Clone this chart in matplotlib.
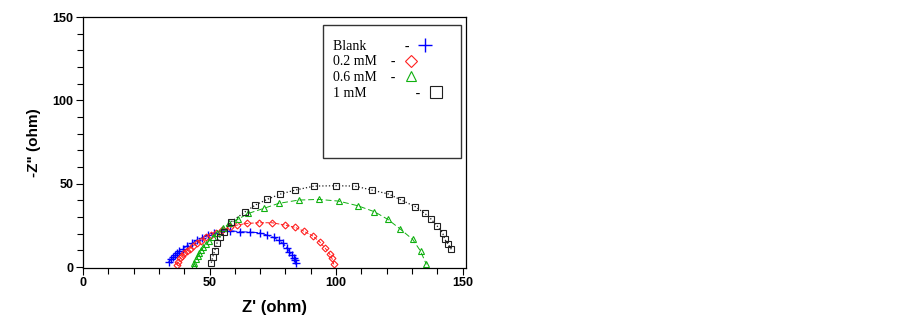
import matplotlib.pyplot as plt

# Nyquist data (Z' and -Z'' in ohm)
blank_x = [33.8, 34.8, 35.7, 36.4, 37.1, 38.1, 39.5, 41.0, 43.0, 45.0, 47.0, 49.6, 51.6, 54.9,
           58.2, 62.1, 66.1, 70.0, 72.7, 75.3, 77.3, 79.0, 80.6, 81.6, 82.6, 83.2, 83.9, 84.2]
blank_y = [3.0, 4.6, 6.2, 7.2, 8.2, 9.6, 11.0, 12.6, 14.2, 16.2, 17.6, 19.0, 20.2, 21.8,
           21.8, 21.2, 21.0, 20.6, 19.2, 17.8, 16.2, 14.2, 11.6, 9.2, 7.2, 5.2, 4.2, 2.6]

mm02_x = [37.1, 37.7, 38.4, 39.1, 40.0, 41.0, 42.1, 43.4, 45.0, 46.7, 48.7, 50.7, 52.6, 54.9,
          58.2, 60.8, 64.8, 69.4, 74.7, 79.9, 83.9, 87.2, 90.9, 93.5, 95.8, 97.5, 98.4, 99.1]
mm02_y = [1.2, 3.2, 5.2, 6.6, 8.2, 9.6, 11.0, 12.6, 14.2, 15.8, 17.8, 19.2, 20.6, 22.2,
          23.8, 25.2, 26.2, 26.6, 26.6, 25.2, 23.8, 21.6, 18.6, 15.2, 11.2, 7.8, 5.2, 1.6]

mm06_x = [43.7, 44.0, 44.6, 45.4, 46.0, 46.7, 47.6, 48.7, 49.9, 51.3, 53.1, 55.3, 57.9, 61.1,
          65.4, 71.4, 77.3, 85.2, 93.1, 101.0, 108.6, 115.2, 120.5, 125.4, 130.3, 133.4, 135.7]
mm06_y = [0.6, 2.6, 4.6, 6.6, 8.6, 10.2, 11.8, 13.8, 15.8, 18.2, 20.6, 23.2, 26.2, 28.6,
          32.2, 35.2, 38.2, 40.2, 40.6, 39.6, 36.8, 33.2, 28.6, 22.8, 16.6, 9.6, 1.6]

mm1_x = [50.7, 51.3, 52.0, 52.9, 54.2, 55.9, 58.6, 64.1, 68.1, 72.7, 78.0, 83.9, 91.4,
         100.1, 107.4, 114.2, 120.8, 125.8, 131.4, 135.1, 137.7, 140.0, 142.1, 143.0, 144.3, 145.6]
mm1_y = [2.6, 6.2, 9.6, 14.2, 18.2, 21.2, 27.2, 33.2, 37.2, 40.6, 43.8, 46.2, 48.6,
         48.8, 48.6, 46.2, 43.8, 40.2, 36.2, 32.2, 28.6, 24.6, 20.6, 16.6, 13.8, 10.6]

labels = ['Blank           -', '0.2 mM    -', '0.6 mM    -', '1 mM              -']

fig = plt.figure(figsize=(9.02, 3.22), dpi=100)
ax = fig.add_axes([0.092, 0.169, 0.425, 0.778])

l1, = ax.plot(blank_x, blank_y, color='#0000ff', ls='-.', lw=0.7, marker='+', ms=6, mew=1.0)
l2, = ax.plot(mm02_x, mm02_y, color='#ff2020', ls='--', lw=0.7, marker='D', ms=3.5,
              mfc='none', mew=0.8)
l3, = ax.plot(mm06_x, mm06_y, color='#10b010', ls=(0, (6, 3)), lw=0.7, marker='^', ms=4.5,
              mfc='none', mew=0.8)
l4, = ax.plot(mm1_x, mm1_y, color='#202020', ls=':', lw=0.9, marker='s', ms=4.8,
              mfc='none', mew=0.8)

ax.set_xlim(0, 151.5)
ax.set_ylim(-0.3, 150)
ax.set_xticks([0, 50, 100, 150])
ax.set_yticks([0, 50, 100, 150])
ax.set_xticks(range(0, 151, 10), minor=True)
ax.set_yticks(range(0, 151, 10), minor=True)
ax.tick_params(which='major', direction='out', length=5, width=0.8, labelsize=9, pad=2)
ax.tick_params(which='minor', direction='out', length=4, width=0.8)
for lab in ax.get_xticklabels() + ax.get_yticklabels():
    lab.set_fontweight('bold')
    lab.set_family('Liberation Sans')
for s in ax.spines.values():
    s.set_linewidth(0.9)

ax.set_xlabel("Z' (ohm)", fontsize=12, fontweight='bold', family='Liberation Sans', labelpad=8)
ax.set_ylabel('-Z" (ohm)', fontsize=11, fontweight='bold', family='Liberation Sans', labelpad=8)

# legend frame
ax.add_patch(plt.Rectangle((0.627, 0.437), 0.36, 0.532, transform=ax.transAxes,
                           fill=False, lw=1.0, ec='#333333'))
leg = ax.legend([l1, l2, l3, l4], labels, loc='upper left', bbox_to_anchor=(0.62, 0.96),
                frameon=False, markerfirst=False, handlelength=0.8, handletextpad=0.7,
                labelspacing=0.2, prop={'family': 'Liberation Serif', 'size': 10},
                markerscale=1.7)
for h in leg.legend_handles:
    h.set_linestyle('none')
# labels left-aligned, like the original key
leg._legend_handle_box.get_children()[0].align = 'left'

fig.savefig('out.png', dpi=100)
